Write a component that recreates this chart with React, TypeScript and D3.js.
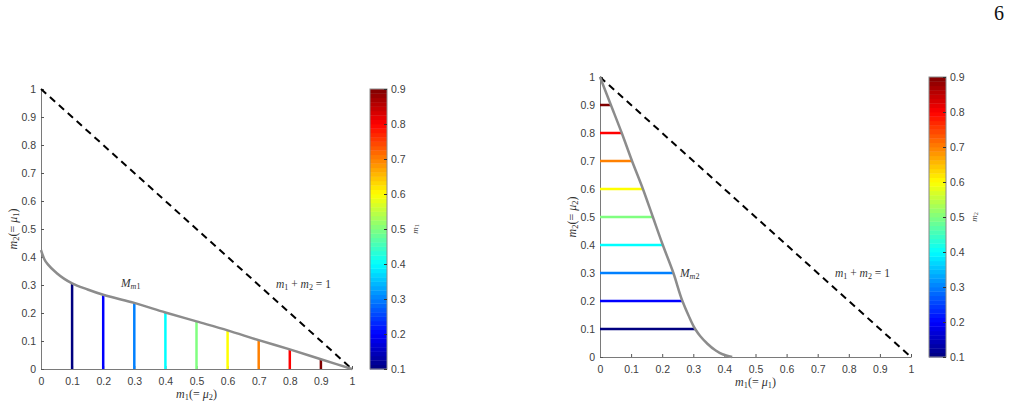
import { useEffect, useRef } from "react"
import * as d3 from "d3"

// tick values shared by both axes of both panels
const axisTicks = [0, 0.1, 0.2, 0.3, 0.4, 0.5, 0.6, 0.7, 0.8, 0.9, 1]
// colour levels (m1 on the left panel, m2 on the right one)
const levels = [0.1, 0.2, 0.3, 0.4, 0.5, 0.6, 0.7, 0.8, 0.9]
const barTicks = [0.1, 0.2, 0.3, 0.4, 0.5, 0.6, 0.7, 0.8, 0.9]

// boundary curve M: free coordinate -> boundary value
const curveArg = [0, 0.01, 0.025, 0.05, 0.075, 0.1, 0.15, 0.2, 0.3, 0.4, 0.5, 0.6, 0.7, 0.8, 0.9, 1]
const curveVal = [0.425, 0.394, 0.37, 0.343, 0.322, 0.306, 0.284, 0.265, 0.236, 0.202, 0.17, 0.138, 0.103, 0.07, 0.035, 0]

type Part = { t: string; it?: boolean; sub?: boolean }

const jet = (t: number) => {
  const c = (v: number) => Math.round(255 * Math.max(0, Math.min(1, v)))
  return `rgb(${c(1.5 - Math.abs(4 * t - 3))},${c(1.5 - Math.abs(4 * t - 2))},${c(1.5 - Math.abs(4 * t - 1))})`
}

function mathText(sel: d3.Selection<SVGTextElement, unknown, null, undefined>, parts: Part[]) {
  parts.forEach(p => {
    const ts = sel.append("tspan").text(p.t)
    if (p.it) ts.attr("font-style", "italic")
    if (p.sub) ts.attr("font-size", "0.7em").attr("baseline-shift", "-22%")
  })
}

interface PanelOpts {
  left: number
  top: number
  swapped: boolean
  xLabel: Part[]
  yLabel: Part[]
  barLabel: Part[]
  mLabel: Part[]
  mPos: [number, number]
  sumPos: [number, number]
}

const W = 311
const H = 280
const serif = "'Liberation Serif', 'Times New Roman', serif"
const sans = "'Liberation Sans', Arial, Helvetica, sans-serif"

function drawPanel(svg: d3.Selection<SVGSVGElement, unknown, null, undefined>, o: PanelOpts) {
  const x = d3.scaleLinear().domain([0, 1]).range([o.left, o.left + W])
  const y = d3.scaleLinear().domain([0, 1]).range([o.top + H, o.top])
  const colorScale = (v: number) => jet((v - 0.1) / 0.8)

  const g = svg.append("g")

  // x axis
  const xa = g.append("g")
    .attr("transform", `translate(0,${o.top + H})`)
    .call(d3.axisBottom(x).tickValues(axisTicks).tickFormat(d3.format("~g")).tickSizeInner(-3).tickSizeOuter(0).tickPadding(9))
  // y axis
  const ya = g.append("g")
    .attr("transform", `translate(${o.left},0)`)
    .call(d3.axisLeft(y).tickValues(axisTicks).tickFormat(d3.format("~g")).tickSizeInner(-3).tickSizeOuter(0).tickPadding(5))
  ;[xa, ya].forEach(a => {
    a.attr("font-family", null).attr("font-size", null)
    a.select(".domain").attr("stroke", "#7a7a7a")
    a.selectAll(".tick line").attr("stroke", "#555")
    a.selectAll("text").attr("fill", "#404040").style("font-family", sans).style("font-size", "10.5px")
  })

  // m1 + m2 = 1
  g.append("line")
    .attr("x1", x(0)).attr("y1", y(1))
    .attr("x2", x(1)).attr("y2", y(0))
    .attr("stroke", "#000").attr("stroke-width", 2).attr("stroke-dasharray", "7,5")

  // coloured level segments up to the boundary
  levels.forEach(lv => {
    const i = curveArg.indexOf(lv)
    const end = curveVal[i]
    const seg = o.swapped
      ? { x1: x(0), y1: y(lv), x2: x(end), y2: y(lv) }
      : { x1: x(lv), y1: y(0), x2: x(lv), y2: y(end) }
    g.append("line")
      .attr("x1", seg.x1).attr("y1", seg.y1).attr("x2", seg.x2).attr("y2", seg.y2)
      .attr("stroke", colorScale(lv)).attr("stroke-width", 2.5)
  })

  // boundary curve
  const pts: [number, number][] = curveArg.map((a, i) => (o.swapped ? [curveVal[i], a] : [a, curveVal[i]]))
  const line = d3.line<[number, number]>()
    .x(d => x(d[0])).y(d => y(d[1]))
    .curve(o.swapped ? d3.curveMonotoneY : d3.curveMonotoneX)
  g.append("path").attr("d", line(pts)).attr("fill", "none").attr("stroke", "#8c8c8c").attr("stroke-width", 2.5)

  // annotations
  const mt = g.append("text").attr("x", o.mPos[0]).attr("y", o.mPos[1])
    .style("font-family", serif).style("font-size", "11.5px").attr("fill", "#333")
  mathText(mt, o.mLabel)
  const st = g.append("text").attr("x", o.sumPos[0]).attr("y", o.sumPos[1])
    .style("font-family", serif).style("font-size", "11.5px").attr("fill", "#333")
  mathText(st, [
    { t: "m", it: true }, { t: "1", sub: true }, { t: " + " },
    { t: "m", it: true }, { t: "2", sub: true }, { t: " = 1" },
  ])

  // axis labels
  const xl = g.append("text").attr("x", x(0.5)).attr("y", o.top + H + 29)
    .attr("text-anchor", "middle").style("font-family", serif).style("font-size", "12px").attr("fill", "#333")
  mathText(xl, o.xLabel)
  const yl = g.append("text")
    .attr("transform", `translate(${o.left - 24},${y(0.5)}) rotate(-90)`)
    .attr("text-anchor", "middle").style("font-family", serif).style("font-size", "12px").attr("fill", "#333")
  mathText(yl, o.yLabel)

  // colour bar
  const bx = o.left + W + 18
  const bw = 17
  const cy = d3.scaleLinear().domain([0.1, 0.9]).range([o.top + H, o.top])
  const n = 64
  const bands = d3.range(n)
  g.append("g").selectAll("rect").data(bands).enter().append("rect")
    .attr("x", bx).attr("width", bw)
    .attr("y", i => cy(0.1 + ((i + 1) / n) * 0.8))
    .attr("height", H / n + 0.4)
    .attr("fill", i => jet((i + 0.5) / n))
  g.append("rect").attr("x", bx).attr("y", o.top).attr("width", bw).attr("height", H)
    .attr("fill", "none").attr("stroke", "#8a8a8a").attr("stroke-width", 1)
  const ca = g.append("g")
    .attr("transform", `translate(${bx + bw},0)`)
    .call(d3.axisRight(cy).tickValues(barTicks).tickFormat(d3.format("~g")).tickSizeInner(-3).tickSizeOuter(0).tickPadding(4))
  ca.select(".domain").remove()
  ca.selectAll(".tick line").attr("stroke", "#333")
  ca.selectAll("text").attr("fill", "#404040").style("font-family", sans).style("font-size", "10.5px")
  const bl = g.append("text")
    .attr("transform", `translate(${bx + bw + 31},${o.top + H / 2}) rotate(-90)`)
    .attr("text-anchor", "middle").style("font-family", serif).style("font-size", "9px").attr("fill", "#444")
  mathText(bl, o.barLabel)
}

export default function App() {
  const svgRef = useRef<SVGSVGElement>(null)

  useEffect(() => {
    const svg = d3.select(svgRef.current as SVGSVGElement)
    svg.selectAll("*").remove()

    drawPanel(svg, {
      left: 41,
      top: 89,
      swapped: false,
      xLabel: [{ t: "m", it: true }, { t: "1", sub: true }, { t: "(= " }, { t: "μ", it: true }, { t: "2", sub: true }, { t: ")" }],
      yLabel: [{ t: "m", it: true }, { t: "2", sub: true }, { t: "(= " }, { t: "μ", it: true }, { t: "1", sub: true }, { t: ")" }],
      barLabel: [{ t: "m", it: true }, { t: "1", sub: true }],
      mLabel: [{ t: "M", it: true }, { t: "m", it: true, sub: true }, { t: "1", sub: true }],
      mPos: [121, 287],
      sumPos: [276, 288],
    })

    drawPanel(svg, {
      left: 600,
      top: 77,
      swapped: true,
      xLabel: [{ t: "m", it: true }, { t: "1", sub: true }, { t: "(= " }, { t: "μ", it: true }, { t: "1", sub: true }, { t: ")" }],
      yLabel: [{ t: "m", it: true }, { t: "2", sub: true }, { t: "(= " }, { t: "μ", it: true }, { t: "2", sub: true }, { t: ")" }],
      barLabel: [{ t: "m", it: true }, { t: "2", sub: true }],
      mLabel: [{ t: "M", it: true }, { t: "m", it: true, sub: true }, { t: "2", sub: true }],
      mPos: [680, 277],
      sumPos: [835, 277],
    })

    // page number
    svg.append("text").attr("x", 1004).attr("y", 20).attr("text-anchor", "end")
      .style("font-family", serif).style("font-size", "20px").attr("fill", "#111").text("6")
  }, [])

  return (
    <svg
      ref={svgRef}
      width={1012}
      height={408}
      style={{ position: "absolute", left: 0, top: 0, background: "#fff" }}
    />
  )
}
